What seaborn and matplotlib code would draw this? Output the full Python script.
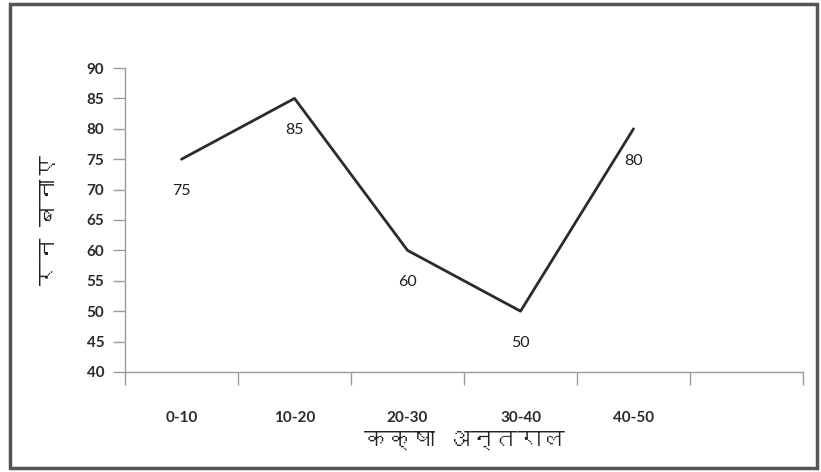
import matplotlib
matplotlib.use("Agg")
import matplotlib.pyplot as plt
from matplotlib import font_manager
from matplotlib.ft2font import FT2Font
from matplotlib.patches import Rectangle
import numpy as np
import pandas as pd
import seaborn as sns

# data
categories = ["0-10", "10-20", "20-30", "30-40", "40-50"]
runs = [75, 85, 60, 50, 80]
y_ticks = list(range(40, 95, 5))
x_title = "कक्षा अन्तराल"
y_title = "रन बनाए"
n_slots = 6  # the axis has one empty category slot on the right


def devanagari_family():
    # look for any installed font that has Devanagari glyphs
    for f in font_manager.fontManager.ttflist:
        try:
            if ord("क") in FT2Font(f.fname).get_charmap():
                return f.name
        except Exception:
            pass
    return None


sns.set_style("white")
plt.rcParams["font.family"] = ["Lato", "DejaVu Sans"]
deva = devanagari_family()
title_family = [deva, "DejaVu Sans"] if deva else ["DejaVu Sans"]

df = pd.DataFrame({"interval": categories, "runs": runs})

fig = plt.figure(figsize=(8.21, 4.72), dpi=100)
ax = fig.add_axes([0.1523, 0.2119, 0.8258, 0.644])

sns.lineplot(data=df, x="interval", y="runs", sort=False, color="#2b2b2b",
             linewidth=2.0, ax=ax)

for i, v in enumerate(runs):
    ax.annotate(str(v), (i, v), xytext=(0, -32), textcoords="offset pixels",
                ha="center", va="center", fontsize=11.5, color="#1e1e1e")

ax.set_ylim(40, 90)
ax.set_yticks(y_ticks)
ax.set_yticklabels([str(t) for t in y_ticks], fontsize=11, fontweight="bold",
                   color="#2a2a2a")

ax.set_xlim(-0.5, n_slots - 0.5)
ax.set_xticks(np.arange(-0.5, n_slots, 1.0))
ax.set_xticklabels([])
ax.set_xticks(range(len(categories)), minor=True)
ax.set_xticklabels(categories, minor=True, fontsize=11, fontweight="bold",
                   color="#2a2a2a")
ax.tick_params(axis="x", which="minor", bottom=True, length=0, pad=28)
ax.tick_params(axis="x", which="major", bottom=True, length=9, width=1,
               color="#9a9a9a", direction="out")
ax.tick_params(axis="y", left=True, length=9, width=1, color="#9a9a9a",
               direction="out", pad=6)

ax.set_xlabel(x_title, family=title_family, fontsize=17, fontweight="bold",
              color="#222222", labelpad=4)
ax.set_ylabel(y_title, family=title_family, fontsize=17, fontweight="bold",
              color="#222222", labelpad=20)

sns.despine(ax=ax)
for side in ["left", "bottom"]:
    ax.spines[side].set_color("#9a9a9a")
    ax.spines[side].set_linewidth(1.0)

# outer frame around the whole chart
fig.patches.append(Rectangle((10 / 821, 4 / 472), 807 / 821, 464 / 472,
                             transform=fig.transFigure, fill=False,
                             edgecolor="#555555", linewidth=2.5))

fig.savefig("out.png", dpi=100)
